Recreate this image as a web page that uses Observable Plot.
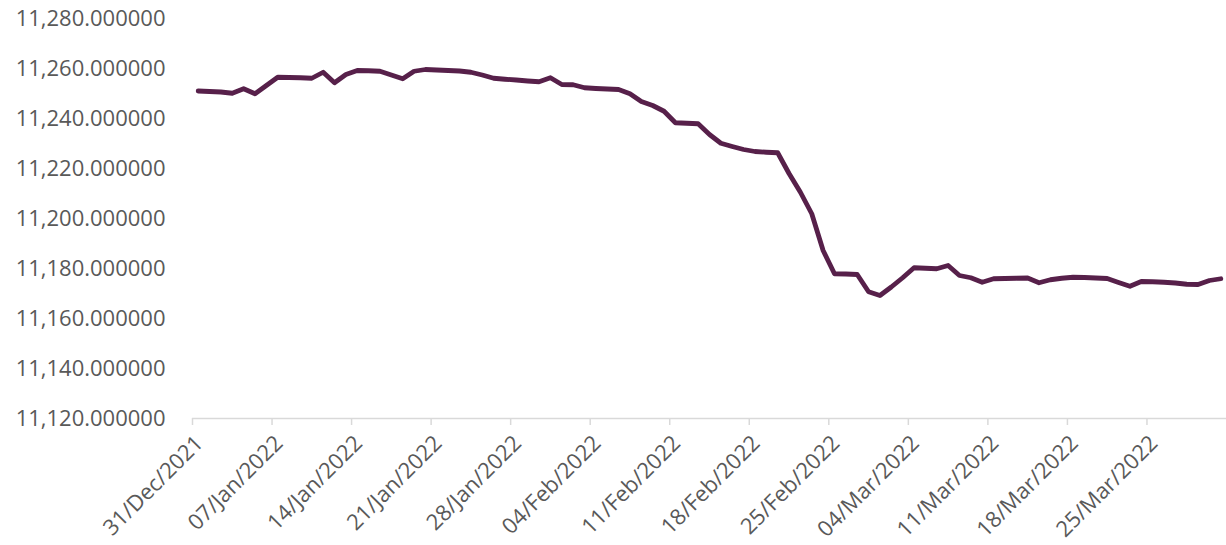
<!DOCTYPE html>
<html>
<head>
<meta charset="utf-8">
<script src="https://cdn.jsdelivr.net/npm/d3@7"></script>
<script src="https://cdn.jsdelivr.net/npm/@observablehq/plot@0.6"></script>
<style>
  html, body { margin: 0; padding: 0; background: #fff; }
  #chart { width: 1226px; height: 545px; }
</style>
</head>
<body>
<div id="chart"></div>
<script>
// Calendar span of the series (daily)
const startDate = "2021-12-31";
const endDate = "2022-03-31";

// Daily values, 31/Dec/2021 .. 31/Mar/2022
const values = [
  11251.0, 11250.8, 11250.6, 11250.1, 11251.9, 11249.9, 11253.2, 11256.5, 11256.4, 11256.3,
  11256.1, 11258.5, 11254.3, 11257.6, 11259.2, 11259.1, 11258.9, 11257.4, 11255.9, 11258.9,
  11259.6, 11259.4, 11259.2, 11259.0, 11258.5, 11257.4, 11256.1, 11255.7, 11255.4, 11255.0,
  11254.7, 11256.3, 11253.6, 11253.5, 11252.3, 11252.0, 11251.8, 11251.6, 11249.9, 11246.8,
  11245.2, 11242.9, 11238.3, 11238.1, 11237.9, 11233.6, 11230.1, 11228.8, 11227.6, 11226.8,
  11226.5, 11226.3, 11218.0, 11210.5, 11201.9, 11187.2, 11177.9, 11177.8, 11177.6, 11170.7,
  11169.2, 11172.6, 11176.3, 11180.3, 11180.1, 11179.9, 11181.2, 11177.2, 11176.3, 11174.5,
  11175.9, 11176.0, 11176.1, 11176.2, 11174.3, 11175.5, 11176.1, 11176.5, 11176.4, 11176.2,
  11176.0, 11174.4, 11172.9, 11174.8, 11174.7, 11174.5, 11174.2, 11173.7, 11173.6, 11175.2,
  11175.9
];

// Axis ticks
const xTickDates = [
  "2021-12-31", "2022-01-07", "2022-01-14", "2022-01-21", "2022-01-28", "2022-02-04",
  "2022-02-11", "2022-02-18", "2022-02-25", "2022-03-04", "2022-03-11", "2022-03-18", "2022-03-25"
];
const yTicks = [11120, 11140, 11160, 11180, 11200, 11220, 11240, 11260, 11280];

// Build table
const days = d3.utcDay.range(new Date(startDate + "T00:00Z"), d3.utcDay.offset(new Date(endDate + "T00:00Z"), 1));
const data = days.map((d, i) => ({date: d3.utcHour.offset(d, 12), value: values[i]}));

const xDomain = [new Date(startDate + "T00:00Z"), d3.utcDay.offset(new Date(endDate + "T00:00Z"), 1)];

const chart = Plot.plot({
  width: 1226,
  height: 545,
  marginLeft: 192,
  marginRight: 0,
  marginTop: 18,
  marginBottom: 127,
  style: {
    fontFamily: "'Open Sans', sans-serif",
    fontSize: "22px",
    color: "#595959",
    background: "#ffffff",
    overflow: "visible"
  },
  x: { type: "utc", domain: xDomain },
  y: { domain: [11120, 11280] },
  marks: [
    Plot.axisY({
      ticks: yTicks,
      tickFormat: d3.format(",.6f"),
      tickSize: 0,
      tickPadding: 27,
      label: null
    }),
    Plot.ruleY([11120], { stroke: "#d9d9d9", strokeWidth: 1.5 }),
    Plot.axisX({
      ticks: xTickDates.map(s => new Date(s + "T00:00Z")),
      tickSize: 7,
      stroke: "#d9d9d9",
      strokeWidth: 1.5,
      text: null,
      label: null
    }),
    Plot.axisX({
      ticks: xTickDates.map(s => new Date(s + "T00:00Z")),
      tickFormat: d3.utcFormat("%d/%b/%Y"),
      tickRotate: -45,
      tickSize: 0,
      tickPadding: 4,
      dx: 7,
      dy: 17,
      label: null
    }),
    Plot.lineY(data, {
      x: "date",
      y: "value",
      stroke: "#57204a",
      strokeWidth: 4.8,
      strokeLinejoin: "round",
      strokeLinecap: "round"
    })
  ]
});

document.getElementById("chart").appendChild(chart);
</script>
</body>
</html>
